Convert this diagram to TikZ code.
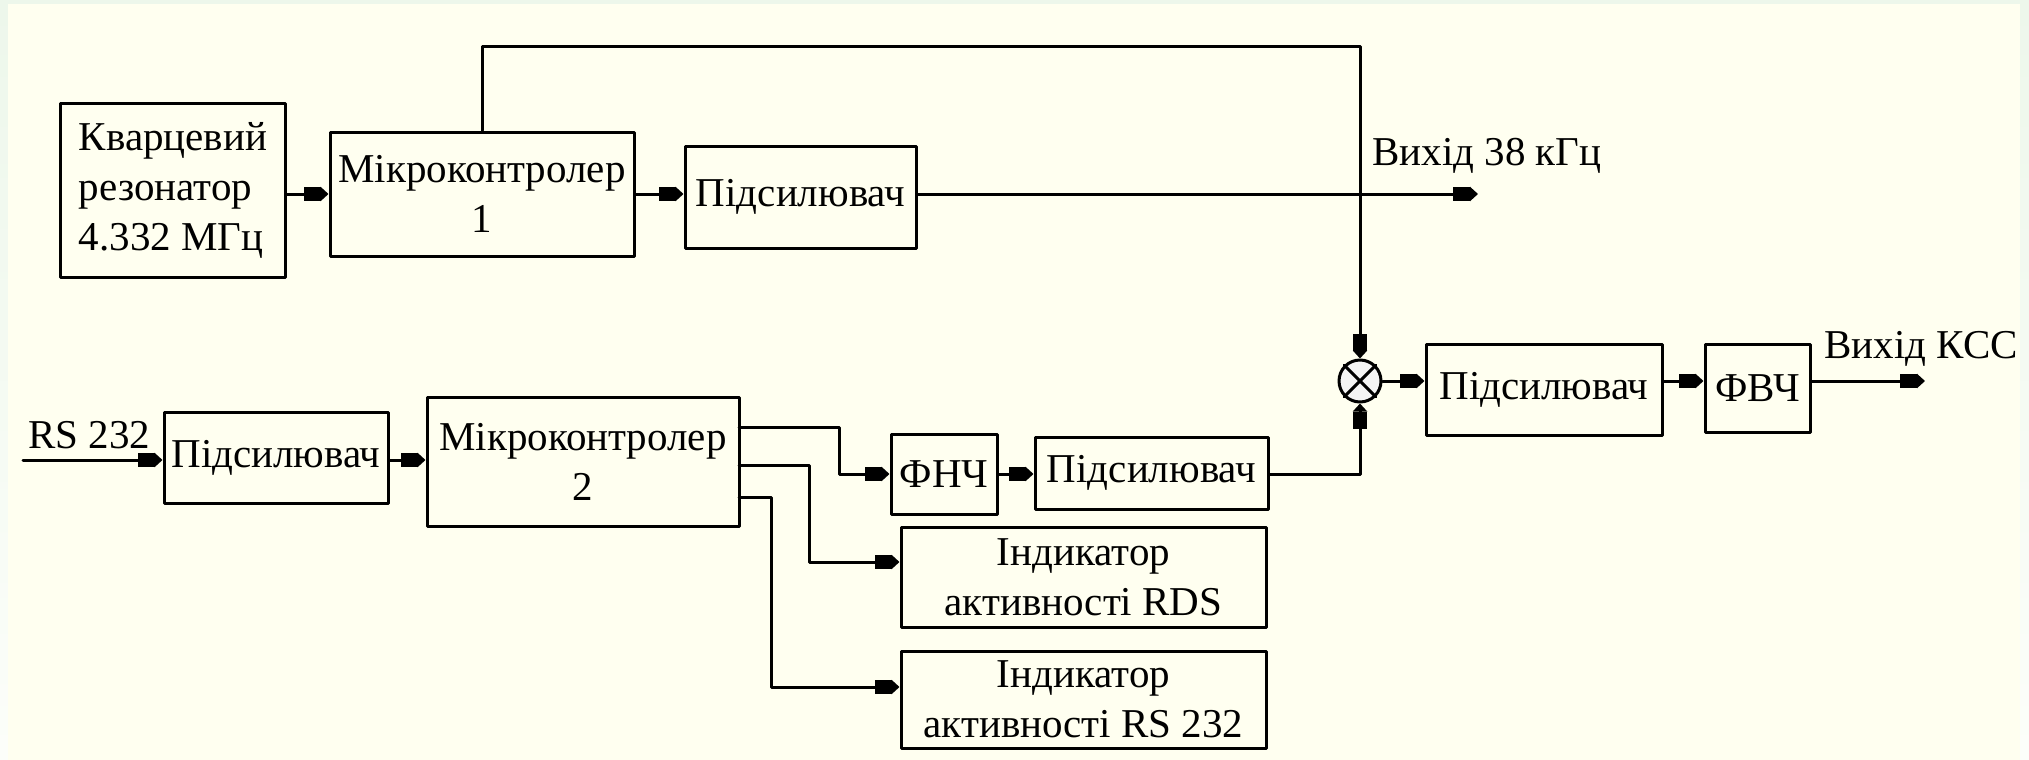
\documentclass[tikz,border=0pt]{standalone}
\usepackage{fontspec}
\setmainfont{Liberation Serif}
\usetikzlibrary{arrows.meta}
\definecolor{paper}{RGB}{255,255,240}
\definecolor{rimtop}{RGB}{237,247,235}
\definecolor{rimbot}{RGB}{252,254,250}
\definecolor{mixfill}{RGB}{244,244,244}

\begin{document}
\begin{tikzpicture}[x=0.5pt,y=-0.5pt,line cap=round,line join=round,
  every node/.style={inner sep=0pt,font=\fontsize{20.5}{25}\selectfont},
  blk/.style={draw,line width=1.5pt,rectangle,align=center},
  wire/.style={line width=1.5pt},
  arr/.style={wire,-{Square[length=8.5pt,width=7pt,sep=0pt]Triangle[length=4pt,width=7pt,sep=0pt]}}]
  % paper
  \useasboundingbox (0,0) rectangle (2029,760);
  \shade[top color=rimtop,bottom color=rimbot] (0,0) rectangle (2029,760);
  \fill[paper] (8,4) rectangle (2020,760);

  % upper chain
  \node[blk,align=left,minimum width=112.5pt,minimum height=87pt] (quartz) at (173,190) {Кварцевий\\резонатор\\4.332 МГц};
  \node[blk,minimum width=152pt,minimum height=62pt] (mc1) at (482,194) {Мікроконтролер\\1};
  \node[blk,minimum width=115.5pt,minimum height=51pt] (amp1) at (800.5,197) {Підсилювач};
  \node[anchor=base west] (lblout1) at (1372,165) {Вихід 38 кГц};
  \coordinate (out1) at (1478,194);
  \coordinate (fb) at (1360,46);

  % mixer and output
  \node[draw,circle,line width=1.5pt,fill=mixfill,minimum size=21pt] (mix) at (1360,381) {};
  \draw[wire] (mix.north west) -- (mix.south east) (mix.north east) -- (mix.south west);
  \node[blk,minimum width=118pt,minimum height=45.5pt] (amp3) at (1544,389.5) {Підсилювач};
  \node[blk,minimum width=52.5pt,minimum height=44pt] (hpf) at (1757.5,388) {ФВЧ};
  \node[anchor=base west] (lblout2) at (1824,358) {Вихід КСС};
  \coordinate (out2) at (1925,381);

  % lower chain
  \node[anchor=base west] (lblrs) at (28,448) {RS 232};
  \coordinate (rsin) at (23,460);
  \node[blk,minimum width=112pt,minimum height=45.5pt] (amp2) at (276,457.5) {Підсилювач};
  \node[blk,minimum width=156pt,minimum height=64.5pt] (mc2) at (583,461.5) {Мікроконтролер\\2};
  \node[blk,minimum width=53pt,minimum height=40pt] (lpf) at (944,474) {ФНЧ};
  \node[blk,minimum width=116.5pt,minimum height=36pt] (amp4) at (1151.5,473) {Підсилювач};
  \node[blk,minimum width=182.5pt,minimum height=50pt] (ind1) at (1083.5,577) {Індикатор\\активності RDS};
  \node[blk,minimum width=182.5pt,minimum height=48.5pt] (ind2) at (1083.5,699.5) {Індикатор\\активності RS 232};

  % taps of mc2
  \coordinate (tapa) at (739,427);
  \coordinate (tapb) at (739,465);
  \coordinate (tapc) at (739,497);

  % connectors
  \draw[arr] (quartz.east |- mc1.west) -- (mc1.west);
  \draw[arr] (mc1.east) -- (mc1.east -| amp1.west);
  \draw[arr] (mc1.east -| amp1.east) -- (out1);
  \draw[arr] (mc1.north) |- (fb) -- (mix.north);
  \draw[arr] (mix.east) -- (mix.east -| amp3.west);
  \draw[arr] (mix.east -| amp3.east) -- (mix.east -| hpf.west);
  \draw[arr] (mix.east -| hpf.east) -- (out2);
  \draw[arr] (rsin) -- (rsin -| amp2.west);
  \draw[arr] (rsin -| amp2.east) -- (rsin -| mc2.west);
  \draw[arr] (tapa) -| (839,474) -- (lpf.west);
  \draw[arr] (tapb) -| (809,562) -- (ind1.west |- 809,562);
  \draw[arr] (tapc) -| (771,687) -- (ind2.west |- 771,687);
  \draw[arr] (lpf.east) -- (lpf.east -| amp4.west);
  \draw[arr] (amp4.east |- lpf.east) -| (mix.south);
\end{tikzpicture}
\end{document}
